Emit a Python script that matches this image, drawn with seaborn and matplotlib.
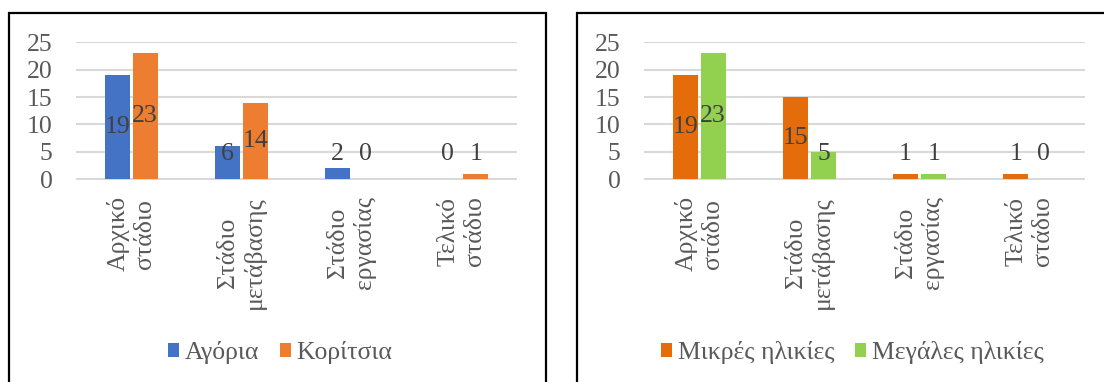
import matplotlib
matplotlib.use("Agg")
import matplotlib.pyplot as plt
import pandas as pd
import seaborn as sns
from matplotlib.patches import Rectangle, Patch

# Stage categories and counts per group
stages = ["Αρχικό\nστάδιο", "Στάδιο\nμετάβασης", "Στάδιο\nεργασίας", "Τελικό\nστάδιο"]
boys = [19, 6, 2, 0]
girls = [23, 14, 0, 1]
young = [19, 15, 1, 1]
older = [23, 5, 1, 0]
gender_labels = ["Αγόρια", "Κορίτσια"]
age_labels = ["Μικρές ηλικίες", "Μεγάλες ηλικίες"]
y_ticks = [0, 5, 10, 15, 20, 25]

sns.set_theme(style="white")
plt.rcParams["font.family"] = ["Liberation Serif", "DejaVu Serif"]

W, H = 1104, 382
fig = plt.figure(figsize=(W / 100, H / 100), dpi=100)

TICK_COLOR = "#595959"
LABEL_COLOR = "#404040"
GRID_COLOR = "#d9d9d9"
FS = 18.5


def long_frame(a, b, names):
    rows = []
    for s, va, vb in zip(stages, a, b):
        rows.append({"stage": s, "group": names[0], "count": va})
        rows.append({"stage": s, "group": names[1], "count": vb})
    return pd.DataFrame(rows)


def px_axes(x0, x1, ytop, ybot):
    return fig.add_axes([x0 / W, (H - ybot) / H, (x1 - x0) / W, (ybot - ytop) / H])


def draw_panel(ax, df, names, colors, legend_center_x):
    sns.barplot(data=df, x="stage", y="count", hue="group", hue_order=names,
                order=stages, palette=colors, saturation=1, width=0.51, gap=0.11,
                linewidth=0, errorbar=None, legend=False, ax=ax)
    ax.set_xlim(-0.5, 3.5)
    ax.set_ylim(-0.08, 25.08)
    ax.set_yticks(y_ticks)
    ax.set_axisbelow(True)
    ax.yaxis.grid(True, color=GRID_COLOR, linewidth=1.5)
    ax.xaxis.grid(False)
    for sp in ax.spines.values():
        sp.set_visible(False)
    ax.set_xlabel("")
    ax.set_ylabel("")
    ax.tick_params(axis="y", length=0, pad=17, labelsize=FS, labelcolor=TICK_COLOR)
    ax.tick_params(axis="x", length=0, pad=12, labelsize=FS, labelcolor=TICK_COLOR)
    for lbl in ax.get_xticklabels():
        lbl.set_rotation(90)
        lbl.set_va("top")
        lbl.set_ha("center")
        lbl.set_multialignment("center")
        lbl.set_linespacing(1.25)
    # value labels centred in the bars
    for cont in ax.containers:
        for bar in cont:
            h = bar.get_height()
            xc = bar.get_x() + bar.get_width() / 2
            ax.text(xc, max(h / 2, 4.6), f"{h:.0f}", ha="center", va="center",
                    fontsize=FS, color=LABEL_COLOR)
    handles = [Patch(facecolor=c, edgecolor="none") for c in colors]
    fig.legend(handles, names, loc="center", ncol=2,
               bbox_to_anchor=(legend_center_x / W, (H - 353) / H),
               frameon=False, fontsize=FS, labelcolor=TICK_COLOR,
               handlelength=0.46, handleheight=0.46, handletextpad=0.2,
               columnspacing=0.8, borderpad=0)


ax1 = px_axes(76, 517, 42, 179.5)
draw_panel(ax1, long_frame(boys, girls, gender_labels), gender_labels,
           ["#4472C4", "#ED7D31"], 280)

ax2 = px_axes(644, 1085, 42, 179.5)
draw_panel(ax2, long_frame(young, older, age_labels), age_labels,
           ["#E46C0A", "#92D050"], 852)

# panel frames
for x0, x1 in [(9, 546), (577, 1114)]:
    fig.add_artist(Rectangle((x0 / W, -0.05), (x1 - x0) / W, (H - 13) / H + 0.05,
                             transform=fig.transFigure, fill=False,
                             edgecolor="black", linewidth=1.6))

fig.savefig("out.png", dpi=100, facecolor="white")
